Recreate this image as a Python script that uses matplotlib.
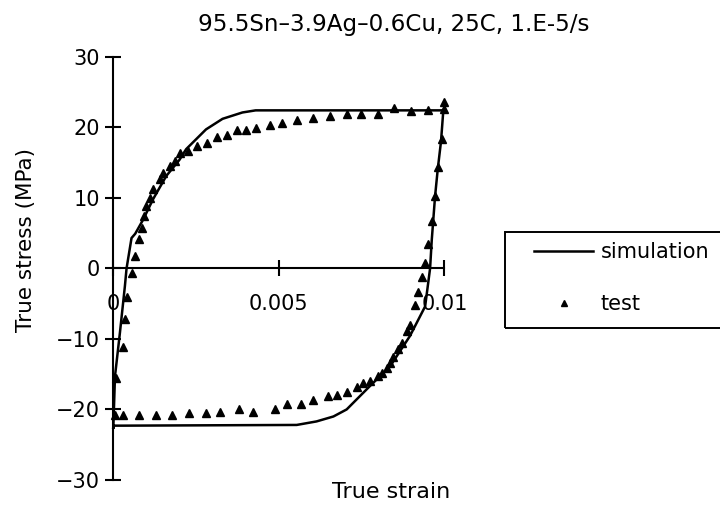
import matplotlib
matplotlib.use("Agg")
import matplotlib.pyplot as plt
from matplotlib.lines import Line2D
from matplotlib.patches import Rectangle

plt.rcParams['font.family'] = ['DejaVu Sans']

title = "95.5Sn\u20133.9Ag\u20130.6Cu, 25C, 1.E-5/s"
xlabel = "True strain"
ylabel = "True stress (MPa)"
xticks = [0, 0.005, 0.01]
xtick_labels = ["0", "0.005", "0.01"]
yticks = [-30, -20, -10, 0, 10, 20, 30]
ytick_labels = ["\u221230", "\u221220", "\u221210", "0", "10", "20", "30"]

# simulation loop (strain, stress)
sim_strain = [0.0, 0.00005, 0.0002, 0.00035, 0.0004, 0.00055, 0.00066, 0.0009, 0.0012,
              0.0016, 0.002, 0.0022, 0.0028, 0.0033, 0.0039, 0.0043, 0.00997,
              0.0099, 0.0098, 0.00972, 0.00962, 0.00957, 0.00942, 0.00896, 0.00836,
              0.00775, 0.00705, 0.00665, 0.00614, 0.00554, 0.0003, 0.00003, 0.0]
sim_stress = [-22.6, -15.3, -9.1, -2.5, 0.0, 4.3, 4.9, 6.9, 9.8,
              13.1, 15.4, 16.9, 19.7, 21.2, 22.1, 22.4, 22.4,
              18.0, 14.0, 10.2, 4.0, 0.0, -5.4, -9.6, -13.9,
              -16.7, -20.0, -21.0, -21.7, -22.2, -22.3, -22.3, -22.6]

# test points
test_strain = [0.00008, 0.00028, 0.00035, 0.0004, 0.00055, 0.00064, 0.00079, 0.00086,
               0.00094, 0.001, 0.0011, 0.0012, 0.00141, 0.00151, 0.00171, 0.00186,
               0.00201, 0.00227, 0.00252, 0.00282, 0.00312, 0.00343, 0.00373, 0.0040,
               0.0043, 0.00473, 0.00509, 0.00554, 0.00604, 0.00655, 0.00705, 0.00748,
               0.00799, 0.00849, 0.00899, 0.0095, 0.0100, 0.0100,
               0.00992, 0.00982, 0.00972, 0.00962, 0.00952, 0.00942, 0.00932, 0.00921,
               0.00911, 0.00896, 0.00886, 0.00871, 0.00861, 0.00846, 0.00836, 0.00826,
               0.00811, 0.00801, 0.00776, 0.00755, 0.00735, 0.00705, 0.00675, 0.00648,
               0.00604, 0.00566, 0.00524, 0.00489, 0.00423, 0.00381, 0.00322, 0.0028,
               0.0023, 0.00178, 0.00128, 0.00079, 0.00028, 0.00005]
test_stress = [-15.5, -11.2, -7.2, -4.0, -0.6, 1.7, 4.1, 5.7,
               7.4, 8.8, 10.0, 11.2, 12.6, 13.5, 14.5, 15.2,
               16.4, 16.6, 17.3, 17.8, 18.6, 18.9, 19.6, 19.6,
               19.9, 20.3, 20.6, 21.0, 21.3, 21.6, 21.9, 21.9,
               21.9, 22.7, 22.3, 22.4, 22.6, 23.6,
               18.3, 14.3, 10.2, 6.7, 3.4, 0.7, -1.2, -3.4,
               -5.2, -8.0, -8.9, -10.6, -11.5, -12.5, -13.4, -14.1,
               -14.8, -15.3, -16.0, -16.2, -16.8, -17.6, -17.9, -18.1,
               -18.7, -19.2, -19.2, -19.9, -20.3, -19.9, -20.3, -20.5,
               -20.5, -20.8, -20.8, -20.8, -20.8, -20.8]

fig = plt.figure(figsize=(7.2, 5.05), dpi=100)
ax = fig.add_axes([0.1436, 0.0426, 0.4965, 0.852])
ax.set_xlim(-0.0003, 0.0105)
ax.set_ylim(-30.5, 30.5)

ax.plot(sim_strain, sim_stress, color='black', lw=1.8, label='simulation', zorder=3)
ax.plot(test_strain, test_stress, linestyle='none', marker='^', color='black',
        markersize=6, label='test', zorder=4)

for s in ['top', 'right']:
    ax.spines[s].set_visible(False)
ax.spines['bottom'].set_position(('data', 0))
ax.spines['left'].set_position(('data', 0))
ax.spines['bottom'].set_bounds(0, 0.01)
ax.spines['left'].set_bounds(-30, 30)
for s in ['bottom', 'left']:
    ax.spines[s].set_linewidth(1.5)

ax.set_xticks(xticks)
ax.set_xticklabels(xtick_labels)
ax.set_yticks(yticks)
ax.set_yticklabels(ytick_labels)
ax.tick_params(axis='both', direction='inout', length=11, width=1.5, labelsize=15)
ax.tick_params(axis='x', pad=13)
ax.tick_params(axis='y', pad=4)

fig.suptitle(title, fontsize=16.6, x=394 / 720, y=1 - 24 / 505, va='center')

ax.set_xlabel(xlabel, fontsize=16)
ax.xaxis.set_label_coords(391 / 720, 1 - 492 / 505, transform=fig.transFigure)
ax.xaxis.label.set_va('center')
ax.set_ylabel(ylabel, fontsize=15.5)
ax.yaxis.set_label_coords(26 / 720, 1 - 240 / 505, transform=fig.transFigure)
ax.yaxis.label.set_va('center')

handles = [Line2D([], [], color='black', lw=1.8),
           Line2D([], [], linestyle='none', marker='^', color='black', markersize=4.5)]
leg = ax.legend(handles, ['simulation', 'test'], loc='upper left',
                bbox_to_anchor=(534 / 720, 1 - 242 / 505), bbox_transform=fig.transFigure,
                frameon=False, fontsize=15, handlelength=2.85, handletextpad=0.34,
                labelspacing=1.55, borderpad=0, borderaxespad=0)
fig.patches.append(Rectangle((505 / 720, 1 - 328 / 505), 220 / 720, 96 / 505,
                             transform=fig.transFigure, fill=False,
                             edgecolor='black', lw=1.4))

fig.savefig('out.png', dpi=100)
